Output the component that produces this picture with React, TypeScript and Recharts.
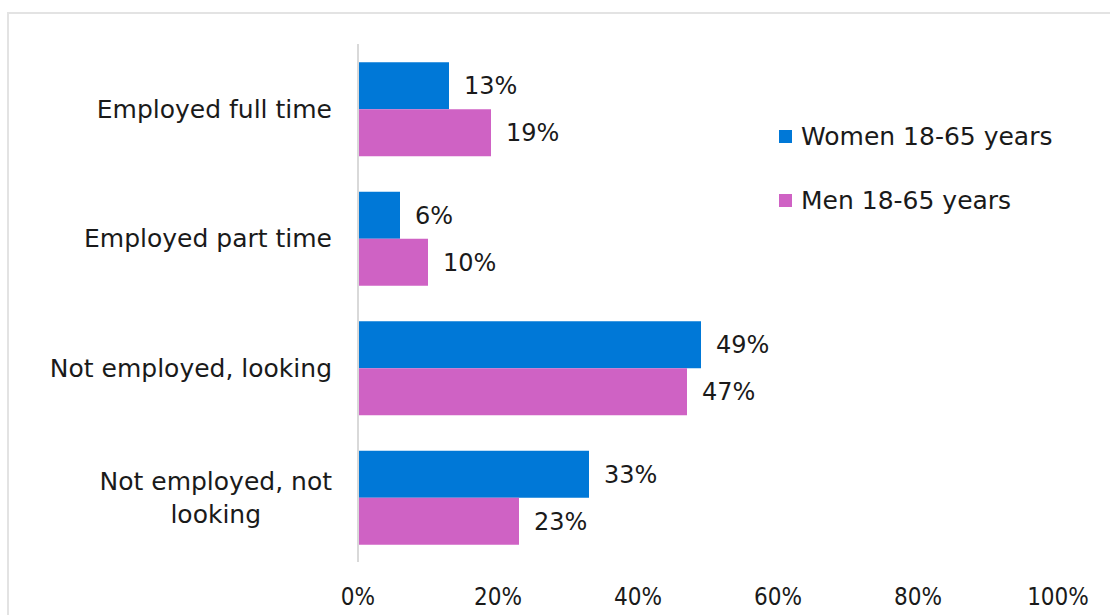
import React, { useLayoutEffect, useRef, useState } from 'react'
import { BarChart, Bar, XAxis, YAxis, Legend, LabelList } from 'recharts'

const CATEGORIES = ['Employed full time', 'Employed part time', 'Not employed, looking', 'Not employed, not|looking']
const SERIES = ['Women 18-65 years', 'Men 18-65 years']
const WOMEN = [13, 6, 49, 33]
const MEN = [19, 10, 47, 23]
const X_TICKS = [0, 20, 40, 60, 80, 100]

const WOMEN_COLOR = '#0078d7'
const MEN_COLOR = '#cf62c4'
const FONT = '"DejaVu Sans", sans-serif'
const NARROW = '"Liberation Sans Narrow", "DejaVu Sans Condensed", sans-serif'

const data = CATEGORIES.map((category, i) => ({
  category,
  women: WOMEN[i],
  men: MEN[i],
}))

// category labels are right aligned; a wrapped second line is centred under the first
function CategoryTick(props: any) {
  const { x, y, payload } = props
  const lines: string[] = String(payload.value).split('|')
  const firstRef = useRef<SVGTextElement>(null)
  const [firstWidth, setFirstWidth] = useState(0)

  useLayoutEffect(() => {
    if (firstRef.current) setFirstWidth(firstRef.current.getComputedTextLength())
  }, [payload.value])

  const lineHeight = 33
  const startY = y - ((lines.length - 1) * lineHeight) / 2
  const right = x - 18

  return (
    <g>
      {lines.map((line, i) => (
        <text
          key={i}
          ref={i === 0 ? firstRef : undefined}
          x={i === 0 ? right : right - firstWidth / 2}
          y={startY + i * lineHeight}
          dy="0.35em"
          textAnchor={i === 0 ? 'end' : 'middle'}
          fill="#1a1a1a"
          fontSize={25}
          fontFamily={FONT}
        >
          {line}
        </text>
      ))}
    </g>
  )
}

function LegendBox({ payload }: any) {
  const items = [...(payload || [])].sort((a: any, b: any) => SERIES.indexOf(a.value) - SERIES.indexOf(b.value))
  return (
    <div style={{ fontFamily: FONT, fontSize: 25, color: '#1a1a1a' }}>
      {items.map((entry: any) => (
        <div key={entry.value} style={{ display: 'flex', alignItems: 'center', height: 36, marginBottom: 28 }}>
          <span style={{ width: 13, height: 13, background: entry.color, display: 'inline-block', marginRight: 9 }} />
          <span>{entry.value}</span>
        </div>
      ))}
    </div>
  )
}

export default function App() {
  return (
    <div style={{ position: 'fixed', left: 0, top: 0, width: 1110, height: 615, background: '#fff', overflow: 'hidden' }}>
      <div
        style={{
          position: 'absolute',
          left: 7,
          top: 12,
          width: 1120,
          height: 620,
          borderLeft: '2px solid #e3e3e3',
          borderTop: '2px solid #e3e3e3',
        }}
      />
      <div style={{ position: 'absolute', left: 0, top: 0 }}>
        <BarChart
          width={1110}
          height={615}
          data={data}
          layout="vertical"
          margin={{ top: 44, right: 52, left: 0, bottom: 13 }}
          barCategoryGap="14%"
          barGap={0}
        >
          <XAxis
            type="number"
            domain={[0, 100]}
            ticks={X_TICKS}
            tickFormatter={(v: number) => `${v}%`}
            axisLine={false}
            tickLine={false}
            tickSize={0}
            tickMargin={26}
            height={40}
            tick={{ fontSize: 24, fill: '#1a1a1a', fontFamily: NARROW }}
          />
          <YAxis
            type="category"
            dataKey="category"
            width={358}
            axisLine={{ stroke: '#d9d9d9', strokeWidth: 2 }}
            tickLine={false}
            tick={<CategoryTick />}
            interval={0}
          />
          <Legend
            layout="horizontal"
            verticalAlign="middle"
            align="center"
            content={<LegendBox />}
            wrapperStyle={{ left: 779, top: 118, width: 320 }}
          />
          <Bar dataKey="women" name={SERIES[0]} fill={WOMEN_COLOR} isAnimationActive={false}>
            <LabelList
              dataKey="women"
              position="right"
              offset={15}
              formatter={(v: any) => `${v}%`}
              style={{ fontSize: 24, fill: '#1a1a1a', fontFamily: FONT }}
            />
          </Bar>
          <Bar dataKey="men" name={SERIES[1]} fill={MEN_COLOR} isAnimationActive={false}>
            <LabelList
              dataKey="men"
              position="right"
              offset={15}
              formatter={(v: any) => `${v}%`}
              style={{ fontSize: 24, fill: '#1a1a1a', fontFamily: FONT }}
            />
          </Bar>
        </BarChart>
      </div>
    </div>
  )
}
